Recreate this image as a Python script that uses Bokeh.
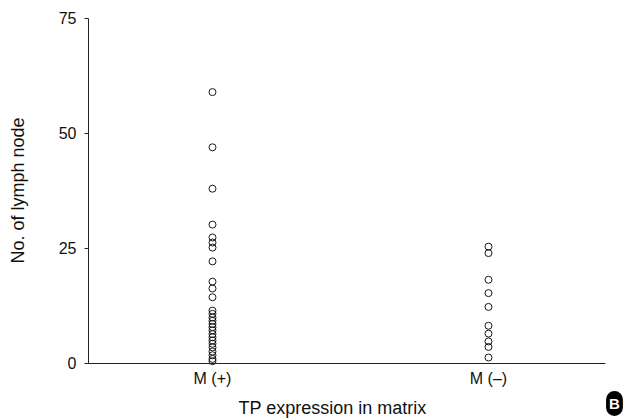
import math
from bokeh.plotting import figure
from bokeh.models import Range1d, FixedTicker, Label
from bokeh.embed import file_html
from bokeh.resources import INLINE

# Data
categories = ["M (+)", "M (\u2013)"]
m_pos = [59, 47, 38, 30.2, 27.4, 26.3, 25.2, 22.2, 17.8, 16.3, 14.4,
         11.5, 10.8, 10.0, 9.3, 8.6, 7.9, 7.2, 6.4, 5.7, 5.0, 4.3, 3.5, 2.6, 1.8, 1.0, 0.5]
m_neg = [25.4, 24.0, 18.2, 15.3, 12.3, 8.2, 6.5, 4.8, 3.6, 1.3]
y_ticks = [0, 25, 50, 75]
x_title = "TP expression in matrix"
y_title = "No. of lymph node"
panel_tag = "B"

FONT = "Liberation Sans"

p = figure(width=625, height=419, output_backend="svg", toolbar_location=None,
           x_range=Range1d(0.2319, 2.4964), y_range=Range1d(-12.174, 78.913),
           min_border_left=0, min_border_top=0, min_border_right=0, min_border_bottom=0)
p.outline_line_color = None
p.grid.visible = False
p.background_fill_color = "white"
p.border_fill_color = "white"

xs_pos = [1] * len(m_pos)
xs_neg = [2] * len(m_neg)
p.scatter(xs_pos, m_pos, marker="circle", size=7, fill_color=None,
          line_color="black", line_width=0.9)
p.scatter(xs_neg, m_neg, marker="circle", size=7, fill_color=None,
          line_color="black", line_width=0.9)

# y axis, pinned at the left end of the x scale
ya = p.yaxis[0]
ya.fixed_location = 0.5507
ya.bounds = (0, 75)
ya.ticker = FixedTicker(ticks=y_ticks)
ya.minor_tick_line_color = None
ya.major_tick_in = 0
ya.major_tick_out = 4
ya.major_label_standoff = 8
ya.axis_line_color = "#222222"
ya.major_tick_line_color = "#222222"
ya.major_label_text_font = FONT
ya.major_label_text_font_size = "16px"
ya.major_label_text_color = "#111111"

# x axis, pinned at y = 0
xa = p.xaxis[0]
xa.fixed_location = 0
xa.bounds = (0.5507, 2.4239)
xa.ticker = FixedTicker(ticks=[1, 2])
xa.major_label_overrides = {1: categories[0], 2: categories[1]}
xa.minor_tick_line_color = None
xa.major_tick_line_color = None
xa.major_tick_in = 0
xa.major_tick_out = 0
xa.major_label_standoff = 7
xa.axis_line_color = "#222222"
xa.major_label_text_font = FONT
xa.major_label_text_font_size = "16px"
xa.major_label_text_color = "#111111"

xt = Label(x=1.4348, y=-9.6, text=x_title, text_align="center",
           text_baseline="middle", text_font=FONT, text_font_size="18px",
           text_color="#111111")
p.add_layout(xt)

yt = Label(x=0.2971, y=37.6, text=y_title, angle=math.pi / 2,
           text_align="center", text_baseline="middle", text_font=FONT,
           text_font_size="18px", text_color="#111111")
p.add_layout(yt)

badge = Label(x=2.4565, y=-8.7, text=panel_tag,
              text_align="center", text_baseline="middle",
              text_color="white", text_font=FONT, text_font_style="bold",
              text_font_size="15px", background_fill_color="black",
              padding=(3, 4), border_radius=9)
p.add_layout(badge)

open("out.html", "w").write(file_html(p, INLINE))
